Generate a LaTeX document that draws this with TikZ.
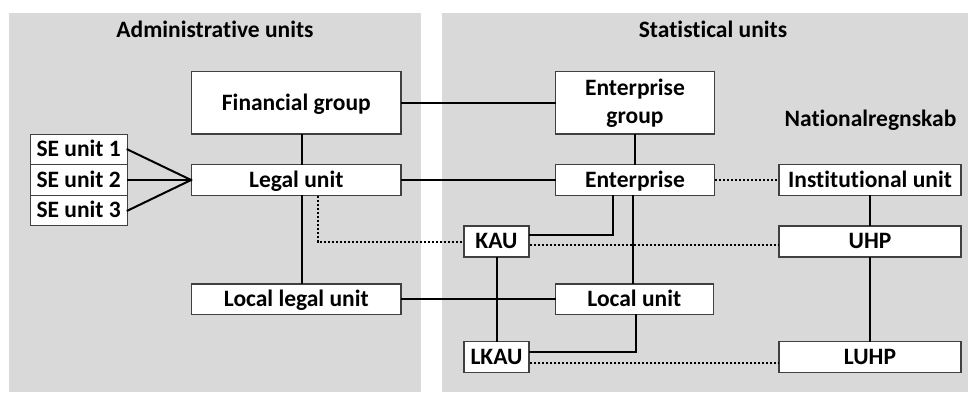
\documentclass[tikz,border=0pt]{standalone}
\usepackage{fontspec}
\setmainfont{Carlito}[Ligatures=NoCommon]
\usetikzlibrary{calc}
\definecolor{panelgray}{HTML}{D9D9D9}
\definecolor{boxline}{HTML}{404040}
\begin{document}
\begin{tikzpicture}[x=1pt,y=-1pt,
  unitbox/.style={draw=boxline,line width=1.1pt,fill=white,inner sep=0pt,
    minimum width=#1,font=\fontsize{23.5}{26}\selectfont\bfseries,align=center},
  oneline/.style={text height=14.6pt,text depth=0pt},
  conn/.style={line width=2pt,line cap=rect},
  dotconn/.style={line width=2pt,dash pattern=on 2pt off 2pt},
  paneltitle/.style={font=\fontsize{23.5}{26}\selectfont\bfseries}]
\useasboundingbox (0,0) rectangle (968,392);
\fill[panelgray] (9,13) rectangle (421,392);
\fill[panelgray] (442,13) rectangle (968,392);
\node[paneltitle,oneline] (tadm) at (215,30) {Administrative units};
\node[paneltitle,oneline] (tstat) at (713,30) {Statistical units};
\node[paneltitle,oneline] (tnat) at (870.5,119) {Nationalregnskab};
% administrative
\node[unitbox=209.3pt,minimum height=62.3pt,oneline] (fin) at (296.3,102.8) {Financial group};
\node[unitbox=209.3pt,minimum height=30.6pt,oneline] (legal) at (296.3,180) {Legal unit};
\node[unitbox=209.3pt,minimum height=30.4pt,oneline] (llu) at (296.3,299.2) {Local legal unit};
\node[unitbox=96.7pt,minimum height=30.4pt,oneline] (se1) at (78.7,149.5) {SE unit 1};
\node[unitbox=96.7pt,minimum height=30.4pt,oneline] (se2) at (78.7,180) {SE unit 2};
\node[unitbox=96.7pt,minimum height=30.4pt,oneline] (se3) at (78.7,210.6) {SE unit 3};
% statistical
\node[unitbox=159pt,minimum height=62.3pt] (eg) at (635,102.8) {Enterprise\\[2pt]group};
\node[unitbox=159pt,minimum height=30.6pt,oneline] (ent) at (635,180) {Enterprise};
\node[unitbox=158pt,minimum height=30.4pt,oneline] (lu) at (634.3,299.2) {Local unit};
\node[unitbox=65pt,minimum height=31pt,oneline] (kau) at (496.5,241.5) {KAU};
\node[unitbox=65pt,minimum height=30.6pt,oneline] (lkau) at (496.5,357) {LKAU};
\node[unitbox=182pt,minimum height=30.6pt,oneline] (inst) at (870,180) {Institutional unit};
\node[unitbox=182pt,minimum height=31pt,oneline] (uhp) at (870,241.5) {UHP};
\node[unitbox=182pt,minimum height=30.6pt,oneline] (luhp) at (870,357) {LUHP};
% connectors
\draw[conn] (se1.east) -- (legal.west);
\draw[conn] (se2.east) -- (legal.west);
\draw[conn] (se3.east) -- (legal.west);
\draw[conn] ([xshift=5.4pt]fin.south) -- ([xshift=5.4pt]legal.north);
\draw[conn] ([xshift=5.4pt]legal.south) -- ([xshift=5.4pt]llu.north);
\draw[conn] (fin.east) -- (eg.west);
\draw[conn] (legal.east) -- (ent.west);
\draw[conn] (eg.south) -- (ent.north);
\draw[dotconn] (ent.east) -- (inst.west);
\draw[dotconn] ([xshift=21.4pt]legal.south) |- (kau.west);
\draw[conn] ([xshift=-21.7pt]ent.south) |- ([yshift=7pt]kau.east);
\draw[dotconn] ([yshift=-3.5pt]kau.east) -- ([yshift=-3.5pt]uhp.west);
\coordinate (entdown) at ([xshift=-2.3pt]ent.south);
\draw[conn] (entdown) -- (entdown |- lu.north);
\draw[conn] (llu.east) -- (lu.west);
\draw[conn] (kau.south) -- (lkau.north);
\draw[conn] ([xshift=1.7pt]lu.south) |- ([yshift=4.7pt]lkau.east);
\draw[dotconn] ([yshift=-6.3pt]lkau.east) -- ([yshift=-6.3pt]luhp.west);
\draw[conn] (inst.south) -- (uhp.north);
\draw[conn] (uhp.south) -- (luhp.north);
\end{tikzpicture}
\end{document}
